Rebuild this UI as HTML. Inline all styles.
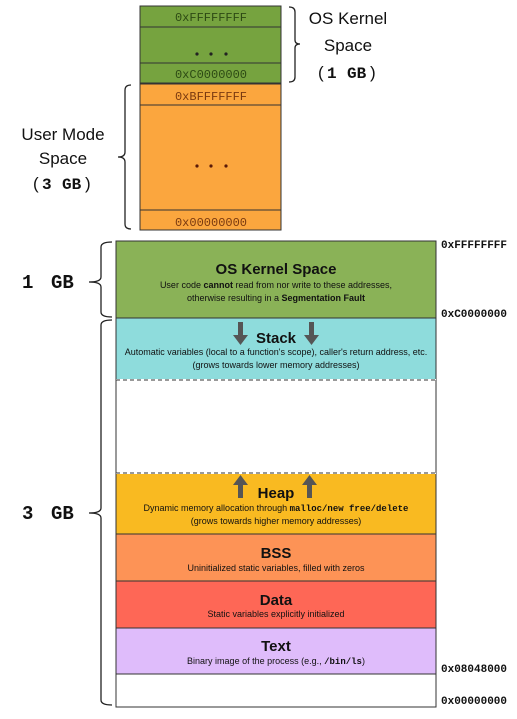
<!DOCTYPE html>
<html><head><meta charset="utf-8"><style>
html,body{margin:0;padding:0;background:#fff;}
svg{display:block;}
.m{font-family:"Liberation Mono",monospace;}
.s{font-family:"Liberation Sans",sans-serif;}
</style></head><body>
<svg width="517" height="719" viewBox="0 0 517 719" xmlns="http://www.w3.org/2000/svg">
<!-- Top diagram -->
<rect x="140" y="6" width="141" height="77" fill="#76a33f" stroke="#333" stroke-width="1"/>
<line x1="140" y1="27" x2="281" y2="27" stroke="#333"/>
<line x1="140" y1="63" x2="281" y2="63" stroke="#333"/>
<rect x="140" y="84" width="141" height="146" fill="#fba63e" stroke="#333" stroke-width="1"/>
<line x1="140" y1="105" x2="281" y2="105" stroke="#333"/>
<line x1="140" y1="210" x2="281" y2="210" stroke="#333"/>
<g class="m" font-size="12" text-anchor="middle">
<text x="211" y="21" fill="#2d4a14">0xFFFFFFFF</text>
<text x="211" y="78" fill="#2d4a14">0xC0000000</text>
<text x="211" y="100" fill="#7a3a10">0xBFFFFFFF</text>
<text x="211" y="226" fill="#7a3a10">0x00000000</text>
</g>
<g fill="#222"><circle cx="197" cy="54" r="1.6"/><circle cx="211" cy="54" r="1.6"/><circle cx="226" cy="54" r="1.6"/></g>
<g fill="#5a1a08"><circle cx="197" cy="166" r="1.6"/><circle cx="211" cy="166" r="1.6"/><circle cx="226" cy="166" r="1.6"/></g>
<path d="M289,7 Q295,7 295,12 L295,40 Q295,44 300,44 Q295,44 295,48 L295,77 Q295,82 289,82" fill="none" stroke="#222" stroke-width="1.3"/>
<path d="M131,85 Q125,85 125,90 L125,152 Q125,157 118,157 Q125,157 125,162 L125,224 Q125,229 131,229" fill="none" stroke="#222" stroke-width="1.3"/>
<g class="s" font-size="17" fill="#111" text-anchor="middle">
<text x="348" y="24">OS Kernel</text>
<text x="348" y="51">Space</text>
<text x="63" y="140">User Mode</text>
<text x="63" y="164">Space</text>
</g>
<g fill="#111" font-size="17">
<text class="s" x="318" y="78">(</text><text class="m" x="327" y="78" font-weight="bold" font-size="16">1</text><text class="m" x="347" y="78" font-weight="bold" font-size="16">GB</text><text class="s" x="370" y="78">)</text>
<text class="s" x="33" y="189">(</text><text class="m" x="42" y="189" font-weight="bold" font-size="16">3</text><text class="m" x="62" y="189" font-weight="bold" font-size="16">GB</text><text class="s" x="85" y="189">)</text>
</g>
<!-- Bottom diagram -->
<rect x="116" y="241" width="320" height="77" fill="#8ab257" stroke="#333"/>
<rect x="116" y="318" width="320" height="62" fill="#8edcdc" stroke="#333"/>
<rect x="116" y="380" width="320" height="93" fill="#fff" stroke="#333"/>
<rect x="116" y="473" width="320" height="61" fill="#f9ba21" stroke="#333"/>
<rect x="116" y="534" width="320" height="47" fill="#fd9356" stroke="#333"/>
<rect x="116" y="581" width="320" height="47" fill="#fe6756" stroke="#333"/>
<rect x="116" y="628" width="320" height="46" fill="#dfbcfb" stroke="#333"/>
<rect x="116" y="674" width="320" height="33" fill="#fff" stroke="#333"/>
<line x1="116" y1="380" x2="436" y2="380" stroke="#fff" stroke-width="2"/>
<line x1="116" y1="380" x2="436" y2="380" stroke="#333" stroke-dasharray="4,3"/>
<line x1="116" y1="473" x2="436" y2="473" stroke="#fff" stroke-width="2"/>
<line x1="116" y1="473" x2="436" y2="473" stroke="#333" stroke-dasharray="4,3"/>
<line x1="116" y1="380" x2="116" y2="473" stroke="#333"/>
<line x1="436" y1="380" x2="436" y2="473" stroke="#333"/>
<!-- arrows -->
<g fill="#555">
<path d="M238,322 h5 v13 h5 l-7.5,10 l-7.5,-10 h5z"/>
<path d="M309,322 h5 v13 h5 l-7.5,10 l-7.5,-10 h5z"/>
<path d="M238,498 h5 v-13 h5 l-7.5,-10 l-7.5,10 h5z"/>
<path d="M307,498 h5 v-13 h5 l-7.5,-10 l-7.5,10 h5z"/>
</g>
<g class="s" text-anchor="middle" fill="#111">
<text x="276" y="274" font-size="15" font-weight="bold">OS Kernel Space</text>
<text x="276" y="288" font-size="9">User code <tspan font-weight="bold">cannot</tspan> read from nor write to these addresses,</text>
<text x="276" y="301" font-size="9">otherwise resulting in a <tspan font-weight="bold">Segmentation Fault</tspan></text>
<text x="276" y="343" font-size="15" font-weight="bold">Stack</text>
<text x="276" y="355" font-size="9">Automatic variables (local to a function's scope), caller's return address, etc.</text>
<text x="276" y="368" font-size="9">(grows towards lower memory addresses)</text>
<text x="276" y="498" font-size="15" font-weight="bold">Heap</text>
<text x="276" y="511" font-size="9">Dynamic memory allocation through <tspan class="m" font-weight="bold">malloc/new free/delete</tspan></text>
<text x="276" y="524" font-size="9">(grows towards higher memory addresses)</text>
<text x="276" y="558" font-size="15" font-weight="bold">BSS</text>
<text x="276" y="571" font-size="9">Uninitialized static variables, filled with zeros</text>
<text x="276" y="605" font-size="15" font-weight="bold">Data</text>
<text x="276" y="617" font-size="9">Static variables explicitly initialized</text>
<text x="276" y="651" font-size="15" font-weight="bold">Text</text>
<text x="276" y="664" font-size="9">Binary image of the process (e.g., <tspan class="m" font-weight="bold">/bin/ls</tspan>)</text>
</g>
<g class="m" font-size="11" font-weight="bold" fill="#111">
<text x="441" y="248">0xFFFFFFFF</text>
<text x="441" y="317">0xC0000000</text>
<text x="441" y="672">0x08048000</text>
<text x="441" y="704">0x00000000</text>
</g>
<path d="M112,242 Q101,242 101,247 L101,277 Q101,282 89,282 Q101,282 101,287 L101,312 Q101,317 112,317" fill="none" stroke="#222" stroke-width="1.3"/>
<path d="M112,320 Q101,320 101,325 L101,508 Q101,513 89,513 Q101,513 101,518 L101,700 Q101,705 112,705" fill="none" stroke="#222" stroke-width="1.3"/>
<g class="m" font-size="19" font-weight="bold" fill="#111">
<text x="22" y="288">1</text><text x="51" y="288">GB</text>
<text x="22" y="519">3</text><text x="51" y="519">GB</text>
</g>
</svg>
</body></html>
